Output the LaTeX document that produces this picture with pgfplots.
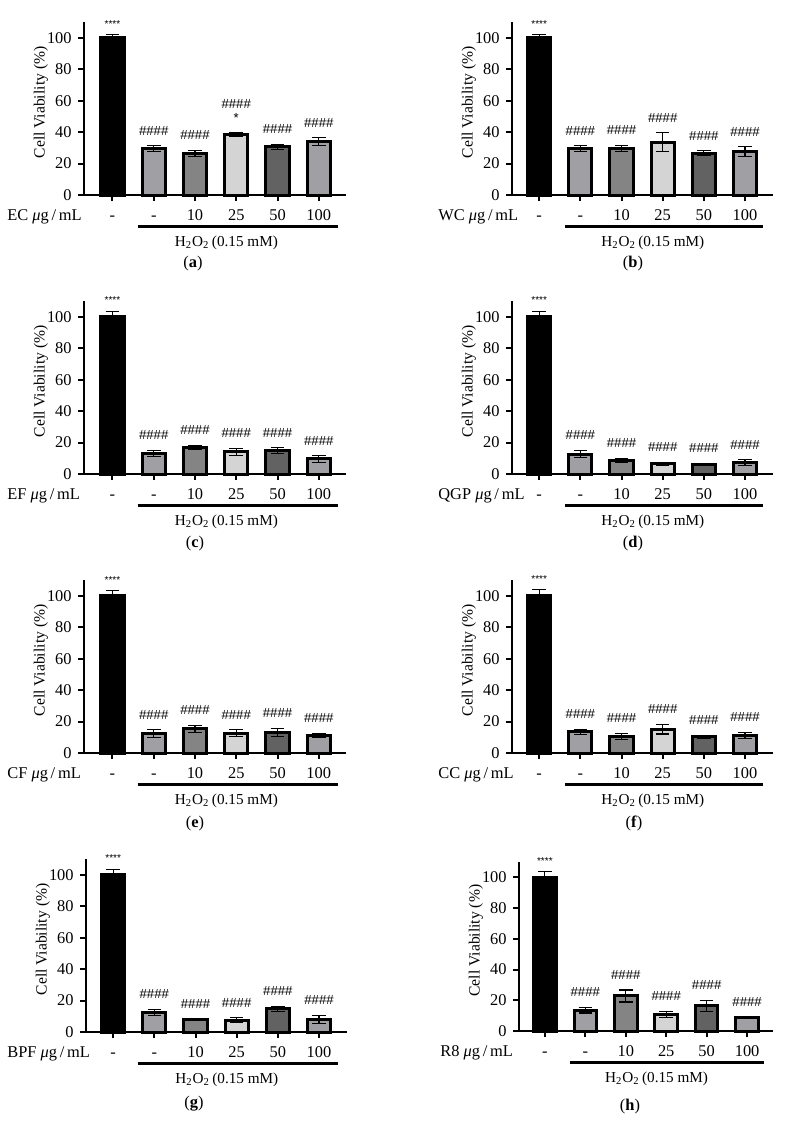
\documentclass[border=0pt]{standalone}
\usepackage{fontspec}
\setmainfont{Liberation Serif}
\newfontfamily\sansf{Liberation Sans}
\usepackage{pgfplots}
\usepackage{pgfplotstable}
\pgfplotsset{compat=1.18}

\definecolor{cA}{RGB}{160,160,164}
\definecolor{cB}{RGB}{132,132,132}
\definecolor{cC}{RGB}{212,212,212}
\definecolor{cD}{RGB}{98,98,98}
\definecolor{cE}{RGB}{160,160,164}

\newcommand\tickfont{\fontsize{8.2}{9.8}\selectfont}
\newcommand\hfont{\fontsize{7.6}{9}\selectfont}
\newcommand\labfont{\fontsize{7.8}{9}\selectfont}
\newcommand\hashfont{\sansf\fontsize{6.6}{8}\selectfont}
\newcommand\starfont{\sansf\fontsize{5}{6}\selectfont}

% x = group (0 = control, 1 = H2O2 only, 2..5 = 10,25,50,100 ug/mL), y = mean, e = error
\pgfplotstableread{
x y e
0 100 2.1
1 29.6 1.7
2 26.4 1.9
3 38.5 1.2
4 30.7 1.6
5 33.8 2.6
}\tabA
\pgfplotstableread{
x y e
0 100 2.0
1 29.6 1.7
2 29.6 2.0
3 33.5 6.0
4 26.6 1.5
5 27.5 3.1
}\tabB
\pgfplotstableread{
x y e
0 100 3.6
1 13.0 2.0
2 16.8 1.4
3 14.0 2.3
4 15.0 1.7
5 9.6 2.1
}\tabC
\pgfplotstableread{
x y e
0 100 3.6
1 12.6 2.3
2 8.6 1.4
3 6.5 1.0
4 6.3 0.6
5 7.1 1.9
}\tabD
\pgfplotstableread{
x y e
0 100 3.4
1 12.4 2.3
2 15.4 2.2
3 12.6 2.1
4 13.0 2.7
5 11.1 1.5
}\tabE
\pgfplotstableread{
x y e
0 100 3.8
1 13.5 1.7
2 10.7 1.9
3 15.2 3.1
4 10.3 0.9
5 11.2 1.9
}\tabF
\pgfplotstableread{
x y e
0 100 3.6
1 12.4 2.1
2 7.8 0.5
3 7.6 1.5
4 14.7 1.5
5 8.0 2.5
}\tabG
\pgfplotstableread{
x y e
0 100 3.9
1 13.5 1.8
2 22.8 3.9
3 10.8 2.1
4 16.3 3.5
5 8.8 0.5
}\tabH

\pgfplotsset{
  panel/.style={
    scale only axis, anchor=south west,
    width=131pt, height=86.5pt,
    xmin=-0.69, xmax=5.66, ymin=0, ymax=110,
    axis x line*=bottom, axis y line*=left,
    axis line style={line width=1pt},
    tick style={line width=1pt, black},
    major tick length=3pt, tick align=outside,
    xtick={0,1,2,3,4,5}, xticklabels={-,-,10,25,50,100},
    ytick={0,20,40,60,80,100},
    /pgf/number format/assume math mode=true,
    ticklabel style={font=\tickfont},
    xticklabel style={anchor=base, inner sep=0pt, yshift=-9.5pt},
    yticklabel style={anchor=east, inner sep=0pt, xshift=-3pt},
    ylabel={Cell Viability (\%)},
    every axis y label/.style={at={(rel axis cs:0,0.535)}, xshift=-21.5pt, rotate=90, anchor=center, font=\labfont},
    clip=false,
  },
  mybar/.style={ybar, bar shift=0pt, bar width=0.56, draw=black, line width=1.5pt, fill=#1,
    error bars/y dir=both, error bars/y explicit,
    error bars/error bar style={line width=0.55pt, black},
    error bars/error mark options={rotate=90, line width=0.55pt, mark size=3.4pt, black}},
  hashlab/.style={draw=none, mark=none, nodes near coords={\#\#\#\#},
    every node near coord/.style={anchor=south, inner sep=0pt, yshift=5.1pt, font=\hashfont, text=black}},
  starlab/.style={draw=none, mark=none, nodes near coords={****},
    every node near coord/.style={anchor=south, inner sep=0pt, yshift=3.4pt, font=\starfont, text=black}},
}

\newcommand\drawbars[1]{%
  \addplot[mybar=black, restrict x to domain=-0.1:0.1] table[x=x,y=y,y error=e]{#1};
  \addplot[mybar=cA, restrict x to domain=0.9:1.1] table[x=x,y=y,y error=e]{#1};
  \addplot[mybar=cB, restrict x to domain=1.9:2.1] table[x=x,y=y,y error=e]{#1};
  \addplot[mybar=cC, restrict x to domain=2.9:3.1] table[x=x,y=y,y error=e]{#1};
  \addplot[mybar=cD, restrict x to domain=3.9:4.1] table[x=x,y=y,y error=e]{#1};
  \addplot[mybar=cE, restrict x to domain=4.9:5.1] table[x=x,y=y,y error=e]{#1};
  \addplot[starlab, restrict x to domain=-0.1:0.1] table[x=x, y expr=\thisrow{y}+\thisrow{e}]{#1};
}
\newcommand\hashes[1]{%
  \addplot[hashlab, restrict x to domain=0.9:5.1] table[x=x, y expr=\thisrow{y}+\thisrow{e}]{#1};
}
\newcommand\htwo[2]{%
  \draw[line width=1.5pt] ([yshift=-15.8pt]axis cs:#1,0) -- ([yshift=-15.8pt]axis cs:#2,0);
  \node[anchor=base, font=\hfont, inner sep=0pt] at ([yshift=-25.5pt]axis cs:2.76,0) {H\textsubscript{2}O\textsubscript{2}\,(0.15 mM)};
}

\begin{document}
\begin{tikzpicture}
\path (0,0) rectangle (395.5pt,-567.5pt);

% (a)
\begin{axis}[panel, at={(42pt,-97.5pt)}]
  \drawbars{\tabA}
  \addplot[hashlab, restrict x to domain=0.9:2.1] table[x=x, y expr=\thisrow{y}+\thisrow{e}]{\tabA};
  \addplot[hashlab, restrict x to domain=3.9:5.1] table[x=x, y expr=\thisrow{y}+\thisrow{e}]{\tabA};
  \addplot[hashlab, restrict x to domain=2.9:3.1, every node near coord/.append style={yshift=6.5pt}] table[x=x, y expr=\thisrow{y}+\thisrow{e}]{\tabA};
  \addplot[hashlab, nodes near coords={*}, restrict x to domain=2.9:3.1, every node near coord/.append style={yshift=-0.2pt}] table[x=x, y expr=\thisrow{y}+\thisrow{e}]{\tabA};
  \htwo{0.61}{5.46}
\end{axis}
% (b)
\begin{axis}[panel, at={(256pt,-97.5pt)}, width=130.5pt, xmin=-0.66, xmax=5.68]
  \drawbars{\tabB}\hashes{\tabB}
  \htwo{0.63}{5.44}
\end{axis}
% (c)
\begin{axis}[panel, at={(42pt,-237pt)}]
  \drawbars{\tabC}\hashes{\tabC}
  \htwo{0.61}{5.46}
\end{axis}
% (d)
\begin{axis}[panel, at={(256pt,-237pt)}, width=130.5pt, xmin=-0.66, xmax=5.68]
  \drawbars{\tabD}\hashes{\tabD}
  \htwo{0.63}{5.44}
\end{axis}
% (e)
\begin{axis}[panel, at={(42pt,-376.5pt)}]
  \drawbars{\tabE}\hashes{\tabE}
  \htwo{0.61}{5.46}
\end{axis}
% (f)
\begin{axis}[panel, at={(256pt,-376.5pt)}, width=130.5pt, xmin=-0.66, xmax=5.68]
  \drawbars{\tabF}\hashes{\tabF}
  \htwo{0.63}{5.44}
\end{axis}
% (g)
\begin{axis}[panel, at={(43pt,-516pt)}, width=130.5pt, xmin=-0.66, xmax=5.68]
  \drawbars{\tabG}\hashes{\tabG}
  \htwo{0.61}{5.46}
\end{axis}
% (h)
\begin{axis}[panel, at={(259.5pt,-515.5pt)}, width=127pt, height=84.5pt, xmin=-0.64, xmax=5.64]
  \drawbars{\tabH}\hashes{\tabH}
  \htwo{0.62}{5.42}
\end{axis}

% row labels
\begin{scope}[every node/.style={anchor=base west, inner sep=0pt, font=\tickfont}]
\node at (3.5pt,-110pt) {EC \textit{μ}g\,/\,mL};
\node at (219pt,-110pt) {WC \textit{μ}g\,/\,mL};
\node at (3.5pt,-249.5pt) {EF \textit{μ}g\,/\,mL};
\node at (219pt,-249.5pt) {QGP \textit{μ}g\,/\,mL};
\node at (3.5pt,-389pt) {CF \textit{μ}g\,/\,mL};
\node at (219pt,-389pt) {CC \textit{μ}g\,/\,mL};
\node at (3.5pt,-528.5pt) {BPF \textit{μ}g\,/\,mL};
\node at (220pt,-528pt) {R8 \textit{μ}g\,/\,mL};
\end{scope}
% panel labels
\begin{scope}[every node/.style={anchor=base, inner sep=0pt, font=\tickfont}]
\node at (96.5pt,-133.5pt) {(\textbf{a})};
\node at (316.5pt,-133.5pt) {(\textbf{b})};
\node at (97.5pt,-273.5pt) {(\textbf{c})};
\node at (316.5pt,-273.5pt) {(\textbf{d})};
\node at (97.5pt,-413.5pt) {(\textbf{e})};
\node at (317pt,-413.5pt) {(\textbf{f})};
\node at (97pt,-553.5pt) {(\textbf{g})};
\node at (315pt,-555pt) {(\textbf{h})};
\end{scope}
\end{tikzpicture}
\end{document}
